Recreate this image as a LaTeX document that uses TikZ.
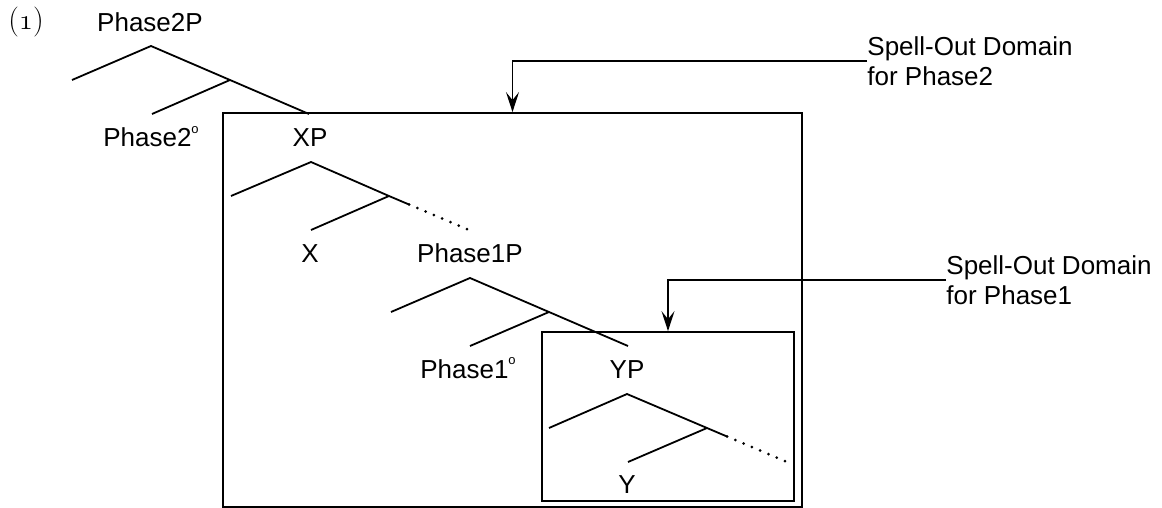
\documentclass[tikz,border=0pt]{standalone}
\usepackage{fontspec}
\newfontfamily\labfont{Liberation Sans}
\usetikzlibrary{arrows.meta}
\newcommand{\headmark}{\raisebox{0.95ex}{\fontsize{6.5}{7}\selectfont o}}
\begin{document}
\begin{tikzpicture}[x=0.5pt,y=-0.5pt,
  lab/.style={font=\labfont\fontsize{13}{15}\selectfont, anchor=base, inner sep=0pt},
  spell/.style={font=\labfont\fontsize{13}{15}\selectfont, anchor=west, align=left, inner sep=0pt},
  br/.style={line width=0.9pt},
  dots/.style={line width=1.5pt, line cap=round, dash pattern=on 0pt off 4.5pt},
  domainbox/.style={draw, line width=0.9pt, inner sep=0pt},
  arr/.style={line width=0.9pt, -{Stealth[length=10pt,width=6.5pt,inset=4pt]}}]
\useasboundingbox (0,0) rectangle (1162,508);

% example number
\node[font=\fontsize{15}{17}\selectfont, anchor=base, inner sep=0pt] (num) at (26,30) {({\usefont{OML}{cmm}{m}{it}1})};

% domains
\node[domainbox, minimum width=289.5pt, minimum height=197pt] (outer) at (512.5,310) {};
\node[domainbox, minimum width=126pt, minimum height=84.5pt] (inner) at (668,416.5) {};

% labels
\node[lab] (p2p) at (150,32) {Phase2P};
\node[lab] (p2h) at (151,147) {Phase2\headmark};
\node[lab] (xp) at (310,147) {XP};
\node[lab] (x) at (310,262) {X};
\node[lab] (p1p) at (470,262) {Phase1P};
\node[lab] (p1h) at (468,378) {Phase1\headmark};
\node[lab] (yp) at (627,378) {YP};
\node[lab] (y) at (627,493) {Y};

\node[spell] (sp2) at (867,61) {Spell-Out Domain\\for Phase2};
\node[spell] (sp1) at (946,280) {Spell-Out Domain\\for Phase1};

% Phase2P tree
\coordinate (a0) at (151,46);
\coordinate (a1) at (72,80);
\coordinate (a2) at (230,80);
\coordinate (a3) at (152,114);
\coordinate (a4) at (309,114);
\draw[br] (a1) -- (a0) -- (a2) -- (a4);
\draw[br] (a2) -- (a3);

% XP tree
\coordinate (b0) at (311,162);
\coordinate (b1) at (231,196);
\coordinate (b2) at (389,196);
\coordinate (b3) at (311,230);
\coordinate (b4) at (409,204.5);
\coordinate (b5) at (469,230);
\draw[br] (b1) -- (b0) -- (b2) -- (b4);
\draw[br] (b2) -- (b3);
\draw[dots] (b4) -- (b5);

% Phase1P tree
\coordinate (c0) at (470,278);
\coordinate (c1) at (391,312);
\coordinate (c2) at (549,312);
\coordinate (c3) at (470,346);
\coordinate (c4) at (628,346);
\draw[br] (c1) -- (c0) -- (c2) -- (c4);
\draw[br] (c2) -- (c3);

% YP tree
\coordinate (d0) at (627,394);
\coordinate (d1) at (549,428);
\coordinate (d2) at (707,428);
\coordinate (d3) at (628,462);
\coordinate (d4) at (727,436.5);
\coordinate (d5) at (787,462);
\draw[br] (d1) -- (d0) -- (d2) -- (d4);
\draw[br] (d2) -- (d3);
\draw[dots] (d4) -- (d5);

% arrows
\draw[arr] (sp2.west) -| (outer.north);
\draw[arr] (sp1.west) -| (inner.north);
\end{tikzpicture}
\end{document}
